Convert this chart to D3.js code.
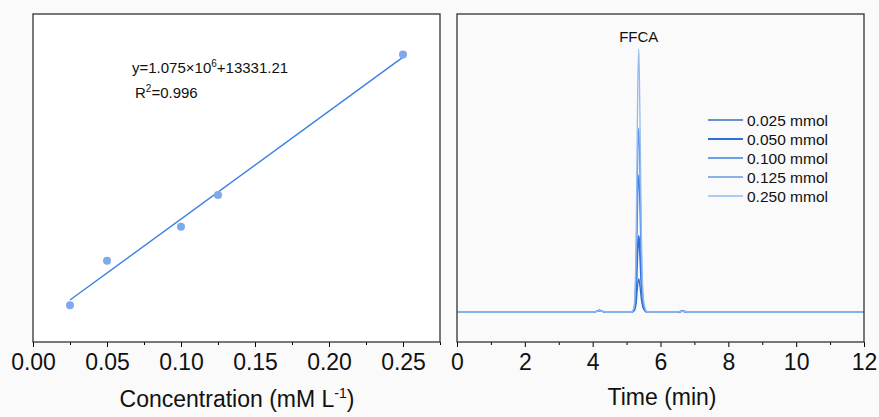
<!DOCTYPE html>
<html>
<head>
<meta charset="utf-8">
<script src="https://cdn.jsdelivr.net/npm/d3@7"></script>
<style>
  body { margin: 0; background: #fafafa; font-family: "Liberation Sans", Arial, sans-serif; }
  svg { display: block; }
</style>
</head>
<body>
<script>
// calibration data (left panel)
var concentrations = [0.025, 0.05, 0.10, 0.125, 0.25];
var peakAreas = [34930, 79330, 113170, 144730, 284780];
var fitSlope = 1.075e6;
var fitIntercept = 13331.21;

// chromatogram data (right panel)
var seriesNames = ["0.025 mmol", "0.050 mmol", "0.100 mmol", "0.125 mmol", "0.250 mmol"];
var seriesColors = ["#3a6cc0", "#2e6fd8", "#3f80e4", "#5f98ea", "#93bbf0"];
var times = [0, 4.05, 4.2, 4.35, 5.15, 5.22, 5.28, 5.33, 5.36, 5.39, 5.44, 5.5, 5.6, 6.5, 6.65, 6.8, 12];
var signal025 = [0, 0, 1.5, 0, 0, 1, 8, 28, 33, 27, 12, 3, 0, 0, 0.8, 0, 0];
var signal050 = [0, 0, 1.5, 0, 0, 2, 20, 65, 76, 62, 25, 5, 0, 0, 0.8, 0, 0];
var signal100 = [0, 0, 1.5, 0, 0, 3, 35, 118, 137, 110, 40, 7, 0, 0, 0.8, 0, 0];
var signal125 = [0, 0, 1.5, 0, 0, 4, 48, 160, 184, 145, 52, 9, 0, 0, 0.8, 0, 0];
var signal250 = [0, 0, 1.5, 0, 0, 5, 68, 228, 263, 205, 72, 12, 0, 0, 0.8, 0, 0];
var signals = [signal025, signal050, signal100, signal125, signal250];

var svg = d3.select("body").append("svg")
    .attr("width", 879)
    .attr("height", 417);

// ---------- left panel ----------
var L = { left: 33, right: 440, top: 14, bottom: 342 };

var xL = d3.scaleLinear().domain([0, 0.275]).range([L.left, L.right]);
var yL = d3.scaleLinear().domain([-1600, 325000]).range([L.bottom, L.top]);

var left_g = svg.append("g");

left_g.append("rect")
    .attr("x", L.left).attr("y", L.top)
    .attr("width", L.right - L.left).attr("height", L.bottom - L.top)
    .attr("fill", "#fff");

// fit line
left_g.append("line")
    .attr("x1", xL(0.025)).attr("y1", yL(fitSlope * 0.025 + fitIntercept))
    .attr("x2", xL(0.25)).attr("y2", yL(fitSlope * 0.25 + fitIntercept))
    .attr("stroke", "#3a80e2")
    .attr("stroke-width", 1.4);

// points
left_g.selectAll(".pt")
    .data(concentrations)
    .enter().append("circle")
    .attr("class", "pt")
    .attr("cx", d => xL(d))
    .attr("cy", (d, i) => yL(peakAreas[i]))
    .attr("r", 4)
    .attr("fill", "#7ea9ea");

// minor + major ticks
left_g.append("g")
    .attr("transform", `translate(0,${L.bottom})`)
    .call(d3.axisBottom(xL).tickValues(d3.range(0.025, 0.28, 0.05)).tickSize(3).tickFormat(""))
    .call(g => g.select(".domain").remove());

var xAxisL = left_g.append("g")
    .attr("transform", `translate(0,${L.bottom})`)
    .call(d3.axisBottom(xL).tickValues([0, 0.05, 0.1, 0.15, 0.2, 0.25]).tickSize(5).tickPadding(7).tickFormat(d3.format(".2f")));
xAxisL.select(".domain").remove();
xAxisL.selectAll("text").attr("font-size", 23).attr("fill", "#111").attr("font-family", "Liberation Sans, Arial");

left_g.append("rect")
    .attr("x", L.left).attr("y", L.top)
    .attr("width", L.right - L.left).attr("height", L.bottom - L.top)
    .attr("fill", "none").attr("stroke", "#333").attr("stroke-width", 1.3);

// equation text
var eq = left_g.append("text")
    .attr("x", 132).attr("y", 73)
    .attr("font-size", 15).attr("fill", "#111");
eq.append("tspan").text("y=1.075×10");
eq.append("tspan").attr("dy", -6).attr("font-size", 10).text("6");
eq.append("tspan").attr("dy", 6).text("+13331.21");

var r2 = left_g.append("text")
    .attr("x", 135).attr("y", 98)
    .attr("font-size", 15).attr("fill", "#111");
r2.append("tspan").text("R");
r2.append("tspan").attr("dy", -6).attr("font-size", 10).text("2");
r2.append("tspan").attr("dy", 6).text("=0.996");

// axis title
var tl = left_g.append("text")
    .attr("x", 237).attr("y", 407)
    .attr("text-anchor", "middle")
    .attr("font-size", 23).attr("fill", "#111");
tl.append("tspan").text("Concentration (mM L");
tl.append("tspan").attr("dy", -9).attr("font-size", 14).text("-1");
tl.append("tspan").attr("dy", 9).text(")");

// ---------- right panel ----------
var R = { left: 457, right: 864, top: 14, bottom: 342 };

var xR = d3.scaleLinear().domain([0, 12]).range([R.left, R.right]);
var yR = d3.scaleLinear().domain([-30, 298]).range([R.bottom, R.top]);

var right_g = svg.append("g");

right_g.append("rect")
    .attr("x", R.left).attr("y", R.top)
    .attr("width", R.right - R.left).attr("height", R.bottom - R.top)
    .attr("fill", "#fafafa");

var lineGen = d3.line()
    .x((d, i) => xR(times[i]))
    .y(d => yR(d))
    .curve(d3.curveMonotoneX);

right_g.selectAll(".trace")
    .data(signals)
    .enter().append("path")
    .attr("class", "trace")
    .attr("d", d => lineGen(d))
    .attr("fill", "none")
    .attr("stroke", (d, i) => seriesColors[i])
    .attr("stroke-width", (d, i) => i === 1 ? 1.8 : 1.3);

right_g.append("g")
    .attr("transform", `translate(0,${R.bottom})`)
    .call(d3.axisBottom(xR).tickValues(d3.range(1, 12, 2)).tickSize(3).tickFormat(""))
    .call(g => g.select(".domain").remove());

var xAxisR = right_g.append("g")
    .attr("transform", `translate(0,${R.bottom})`)
    .call(d3.axisBottom(xR).tickValues(d3.range(0, 13, 2)).tickSize(5).tickPadding(7).tickFormat(d3.format("d")));
xAxisR.select(".domain").remove();
xAxisR.selectAll("text").attr("font-size", 23).attr("fill", "#111").attr("font-family", "Liberation Sans, Arial");

right_g.append("rect")
    .attr("x", R.left).attr("y", R.top)
    .attr("width", R.right - R.left).attr("height", R.bottom - R.top)
    .attr("fill", "none").attr("stroke", "#333").attr("stroke-width", 1.3);

right_g.append("text")
    .attr("x", xR(5.36)).attr("y", 42)
    .attr("text-anchor", "middle")
    .attr("font-size", 15).attr("fill", "#111")
    .text("FFCA");

// legend
var legend = right_g.selectAll(".legend")
    .data(seriesNames)
    .enter().append("g")
    .attr("class", "legend")
    .attr("transform", (d, i) => `translate(708,${120 + i * 19})`);

legend.append("line")
    .attr("x1", 0).attr("x2", 35)
    .attr("stroke", (d, i) => seriesColors[i])
    .attr("stroke-width", (d, i) => i === 1 ? 2 : 1.4);

legend.append("text")
    .attr("x", 39).attr("y", 5.5)
    .attr("font-size", 15.5).attr("fill", "#111")
    .text(d => d);

right_g.append("text")
    .attr("x", 662).attr("y", 405)
    .attr("text-anchor", "middle")
    .attr("font-size", 23).attr("fill", "#111")
    .text("Time (min)");
</script>
</body>
</html>
